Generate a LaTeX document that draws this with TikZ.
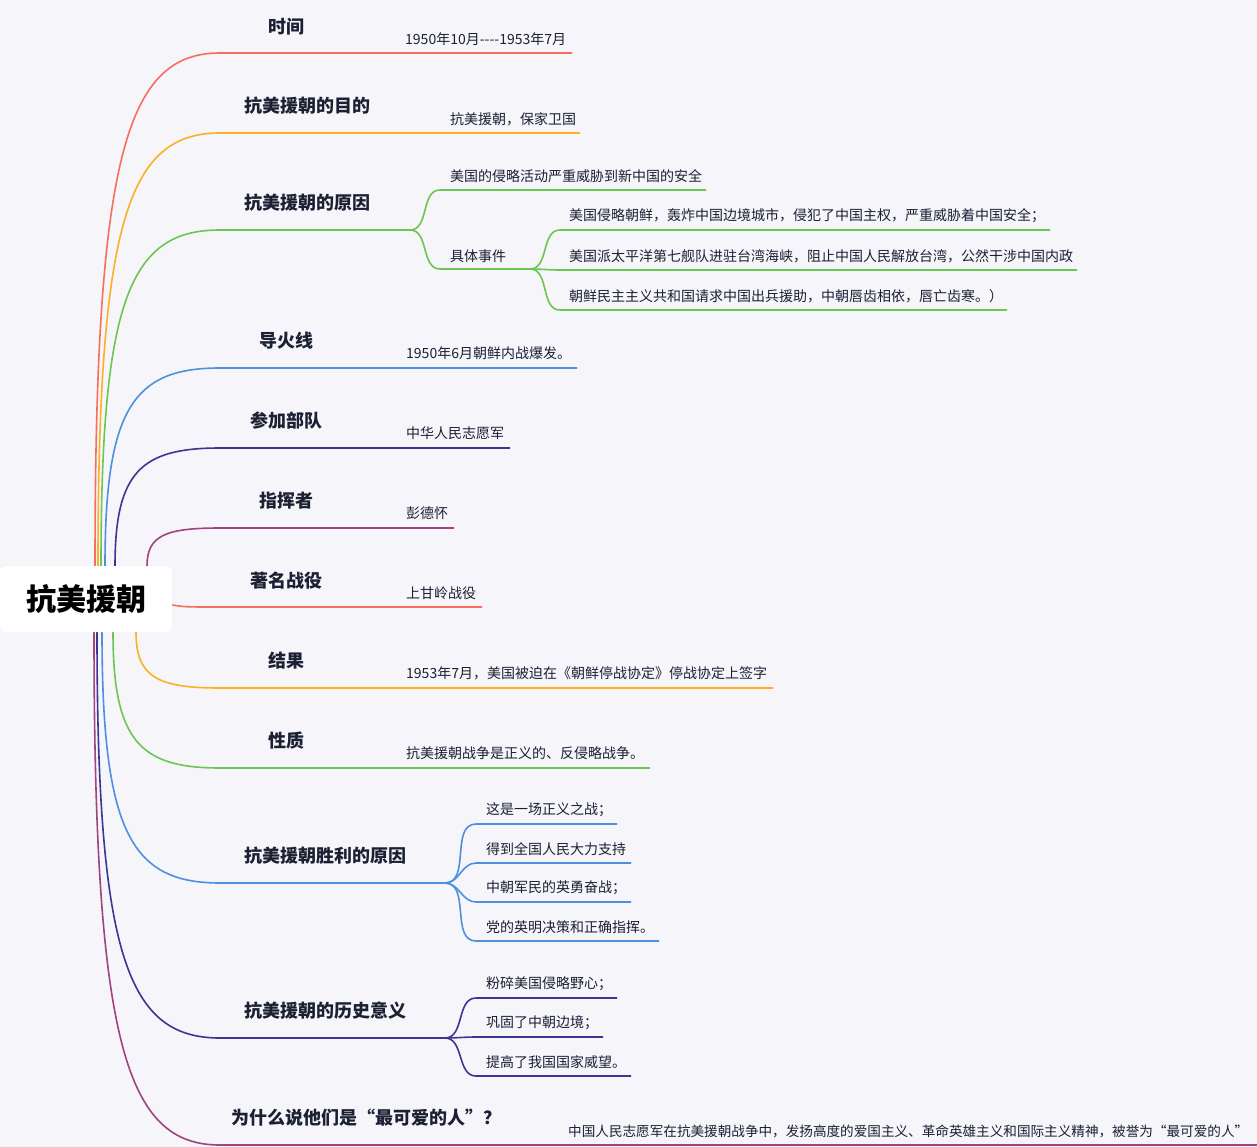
\documentclass[tikz,border=0pt]{standalone}
\usepackage{fontspec}
\usetikzlibrary{calc}
\setmainfont{Noto Sans CJK SC}
\definecolor{bg}{HTML}{F5F5FA}
\definecolor{cR}{HTML}{F76E5E}
\definecolor{cO}{HTML}{FDB022}
\definecolor{cG}{HTML}{6DC651}
\definecolor{cB}{HTML}{4E8FE0}
\definecolor{cI}{HTML}{3E3494}
\definecolor{cP}{HTML}{A0447E}
\definecolor{tx}{HTML}{1B2033}
\tikzset{
 br/.style={line width=1.6pt},
 blab/.style={font=\fontsize{18}{20}\selectfont\bfseries, text=tx, inner sep=0},
 clab/.style={font=\fontsize{14}{16}\selectfont, text=tx, anchor=west, inner sep=0},
}
\begin{document}
\begin{tikzpicture}[x=1pt,y=1pt]
\fill[bg] (0,0) rectangle (1257,-1147);
\useasboundingbox (0,0) rectangle (1257,-1147);
\def\curve(#1)(#2){(#1) .. controls ($(#1)!0.8!(#1|-#2)$) and ($(#2)!0.75!(#1|-#2)$) .. (#2)}
\coordinate (s53) at (95,-566); \coordinate (b53) at (220,-53); \coordinate (e53) at (572,-53);
\draw[br,cR] \curve(s53)(b53) -- (e53);
\node[blab] (l53) at (286,-27) {时间};
\node[clab] (c53) at (405,-39) {1950年10月{-}{-}{-}{-}1953年7月};
\coordinate (s133) at (98,-566); \coordinate (b133) at (220,-133); \coordinate (e133) at (580,-133);
\draw[br,cO] \curve(s133)(b133) -- (e133);
\node[blab] (l133) at (307,-106) {抗美援朝的目的};
\node[clab] (c133) at (450,-119) {抗美援朝，保家卫国};
\coordinate (s368) at (105,-566); \coordinate (b368) at (220,-368); \coordinate (e368) at (577,-368);
\draw[br,cB] \curve(s368)(b368) -- (e368);
\node[blab] (l368) at (286,-341) {导火线};
\node[clab] (c368) at (406,-353) {1950年6月朝鲜内战爆发。};
\coordinate (s448) at (115,-566); \coordinate (b448) at (220,-448); \coordinate (e448) at (510,-448);
\draw[br,cI] \curve(s448)(b448) -- (e448);
\node[blab] (l448) at (286,-421) {参加部队};
\node[clab] (c448) at (406,-433) {中华人民志愿军};
\coordinate (s528) at (147,-566); \coordinate (b528) at (220,-528); \coordinate (e528) at (454,-528);
\draw[br,cP] \curve(s528)(b528) -- (e528);
\node[blab] (l528) at (286,-501) {指挥者};
\node[clab] (c528) at (406,-513) {彭德怀};
\coordinate (s607) at (172,-605); \coordinate (b607) at (220,-607); \coordinate (e607) at (482,-607);
\draw[br,cR] (s607) .. controls (185,-607) .. (b607) -- (e607);
\node[blab] (l607) at (286,-581) {著名战役};
\node[clab] (c607) at (406,-593) {上甘岭战役};
\coordinate (s688) at (136,-632); \coordinate (b688) at (220,-688); \coordinate (e688) at (773,-688);
\draw[br,cO] \curve(s688)(b688) -- (e688);
\node[blab] (l688) at (286,-661) {结果};
\node[clab] (c688) at (406,-673) {1953年7月，美国被迫在《朝鲜停战协定》停战协定上签字};
\coordinate (s768) at (113,-632); \coordinate (b768) at (220,-768); \coordinate (e768) at (650,-768);
\draw[br,cG] \curve(s768)(b768) -- (e768);
\node[blab] (l768) at (286,-741) {性质};
\node[clab] (c768) at (406,-753) {抗美援朝战争是正义的、反侵略战争。};
\coordinate (s1145) at (94,-632); \coordinate (b1145) at (220,-1145); \coordinate (e1145) at (1257,-1145);
\draw[br,cP] \curve(s1145)(b1145) -- (e1145);
\node[blab] (l1145) at (366,-1118) {为什么说他们是“最可爱的人”？};
\node[clab,font=\fontsize{13.6}{16}\selectfont] (c1145) at (568,-1131) {中国人民志愿军在抗美援朝战争中，发扬高度的爱国主义、革命英雄主义和国际主义精神，被誉为“最可爱的人”};
% reasons
\coordinate (s230) at (101,-566); \coordinate (b230) at (220,-230); \coordinate (m230) at (410,-230);
\draw[br,cG] \curve(s230)(b230) -- (m230);
\node[blab] (l230) at (307,-203) {抗美援朝的原因};
\coordinate (r1) at (440,-190); \coordinate (r1e) at (706,-190);
\coordinate (r2) at (440,-269); \coordinate (r2e) at (512,-269);
\draw[br,cG] (m230) to[out=0,in=180] (r1) -- (r1e);
\draw[br,cG] (m230) to[out=0,in=180] (r2) -- (r2e);
\node[clab] (t1) at (450,-176) {美国的侵略活动严重威胁到新中国的安全};
\node[clab] (t2) at (450,-256) {具体事件};
\coordinate (q0) at (530,-269);
\draw[br,cG] (r2e) -- (q0);
\foreach \yy/\xe/\tt in {230/1050/{美国侵略朝鲜，轰炸中国边境城市，侵犯了中国主权，严重威胁着中国安全；},270/1077/{美国派太平洋第七舰队进驻台湾海峡，阻止中国人民解放台湾，公然干涉中国内政},310/1007/{朝鲜民主主义共和国请求中国出兵援助，中朝唇齿相依，唇亡齿寒。）}}{
  \coordinate (qa\yy) at (560,-\yy); \coordinate (qb\yy) at (\xe,-\yy);
  \draw[br,cG] (q0) to[out=0,in=180] (qa\yy) -- (qb\yy);
  \node[clab] (qt\yy) at (569,-\yy+14) {\tt};
}
% victory reasons
\coordinate (s883) at (102,-632); \coordinate (b883) at (220,-883); \coordinate (m883) at (445,-883);
\draw[br,cB] \curve(s883)(b883) -- (m883);
\node[blab] (l883) at (325,-856) {抗美援朝胜利的原因};
\foreach \yy/\xe/\tt in {824/617/{这是一场正义之战；},863/631/{得到全国人民大力支持},902/631/{中朝军民的英勇奋战；},941/659/{党的英明决策和正确指挥。}}{
  \coordinate (va\yy) at (476,-\yy); \coordinate (vb\yy) at (\xe,-\yy);
  \draw[br,cB] (m883) to[out=0,in=180] (va\yy) -- (vb\yy);
  \node[clab] (vt\yy) at (486,-\yy+14) {\tt};
}
% significance
\coordinate (s1038) at (97,-632); \coordinate (b1038) at (220,-1038); \coordinate (m1038) at (445,-1038);
\draw[br,cI] \curve(s1038)(b1038) -- (m1038);
\node[blab] (l1038) at (325,-1011) {抗美援朝的历史意义};
\foreach \yy/\xe/\tt in {998/617/{粉碎美国侵略野心；},1037/603/{巩固了中朝边境；},1076/631/{提高了我国国家威望。}}{
  \coordinate (ha\yy) at (476,-\yy); \coordinate (hb\yy) at (\xe,-\yy);
  \draw[br,cI] (m1038) to[out=0,in=180] (ha\yy) -- (hb\yy);
  \node[clab] (ht\yy) at (486,-\yy+14) {\tt};
}
% root
\node[fill=white, rounded corners=6pt, minimum width=172pt, minimum height=66pt, inner sep=0,
  font=\fontsize{30}{32}\selectfont\bfseries, text=black] (root) at (86,-599) {抗美援朝};
\end{tikzpicture}
\end{document}
